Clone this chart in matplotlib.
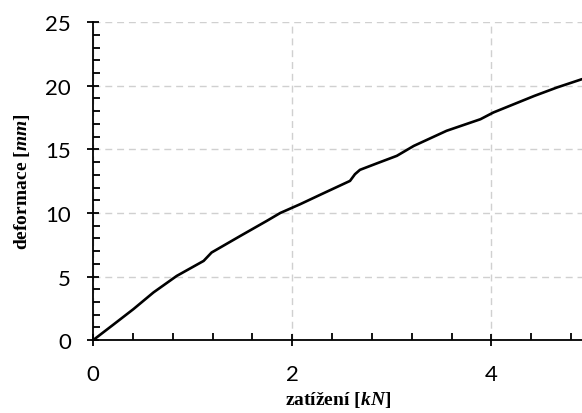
import matplotlib
matplotlib.use("Agg")
import matplotlib.pyplot as plt
from matplotlib.ticker import MultipleLocator

# zatížení [kN] vs deformace [mm]
load = [0.0, 0.20, 0.405, 0.606, 0.84, 1.11, 1.19, 1.48, 1.745, 1.88, 2.08,
        2.30, 2.58, 2.63, 2.68, 2.85, 3.05, 3.22, 3.55, 3.89, 4.02, 4.43, 4.66, 4.91]
deform = [0.0, 1.2, 2.44, 3.75, 5.05, 6.23, 6.89, 8.2, 9.38, 10.0, 10.69,
          11.5, 12.52, 13.05, 13.39, 13.9, 14.49, 15.27, 16.46, 17.37, 17.9, 19.2, 19.87, 20.52]

plt.rcParams['mathtext.fontset'] = 'custom'
plt.rcParams['mathtext.rm'] = 'Liberation Serif:bold'
plt.rcParams['mathtext.it'] = 'Liberation Serif:bold:italic'

fig = plt.figure(figsize=(5.82, 4.14), dpi=100)
ax = fig.add_axes([0.16, 0.176, 0.84, 0.768])

ax.plot(load, deform, color='black', linewidth=1.9, solid_capstyle='round')

ax.set_xlim(0, 4.91)
ax.set_ylim(0, 25)
ax.xaxis.set_major_locator(MultipleLocator(2))
ax.xaxis.set_minor_locator(MultipleLocator(0.4))
ax.yaxis.set_major_locator(MultipleLocator(5))
ax.yaxis.set_minor_locator(MultipleLocator(1))

ax.grid(True, which='major', color='#d0d0d0', linestyle=(0, (5, 3.5)), linewidth=1.0)
ax.set_axisbelow(True)

for s in ['top', 'right']:
    ax.spines[s].set_visible(False)
for s in ['left', 'bottom']:
    ax.spines[s].set_linewidth(1.3)

ax.tick_params(axis='x', which='major', direction='inout', length=8, width=1.3, pad=13)
ax.tick_params(axis='x', which='minor', direction='in', length=5, width=1.3)
ax.tick_params(axis='y', which='major', direction='inout', length=8, width=1.3, pad=12)
ax.tick_params(axis='y', which='minor', direction='in', length=5, width=1.3)

for lab in ax.get_xticklabels() + ax.get_yticklabels():
    lab.set_fontfamily('Lato')
    lab.set_fontsize(16)

ax.set_xlabel(r'zatížení [$kN$]', fontfamily='Liberation Serif', fontweight='bold',
              fontsize=14)
ax.set_ylabel(r'deformace [$mm$]', fontfamily='Liberation Serif', fontweight='bold',
              fontsize=14)
ax.xaxis.set_label_coords(0.5, -0.155)
ax.yaxis.set_label_coords(-0.125, 0.5)

fig.savefig('out.png', dpi=100)
